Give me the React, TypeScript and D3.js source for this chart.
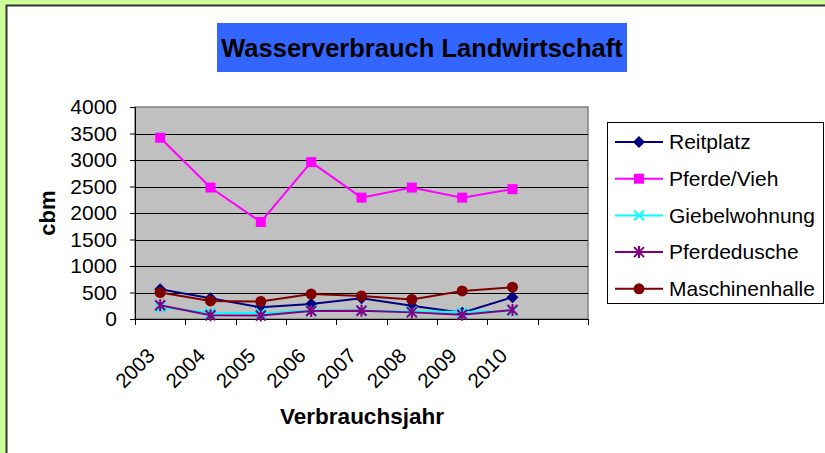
import React, { useRef, useEffect } from 'react';
import * as d3 from 'd3';

const years = ['2003', '2004', '2005', '2006', '2007', '2008', '2009', '2010'];
const yTicks = [0, 500, 1000, 1500, 2000, 2500, 3000, 3500, 4000];

const reitplatz = [560, 390, 220, 285, 390, 250, 120, 410];
const pferdeVieh = [3420, 2480, 1830, 2960, 2290, 2480, 2290, 2450];
const giebelwohnung = [220, 120, 110, 160, 160, 140, 130, 150];
const pferdedusche = [260, 70, 65, 150, 155, 125, 80, 170];
const maschinenhalle = [500, 340, 330, 470, 435, 370, 530, 600];

const seriesNames = ['Reitplatz', 'Pferde/Vieh', 'Giebelwohnung', 'Pferdedusche', 'Maschinenhalle'];
const seriesColors = ['#000080', '#ff00ff', '#00ffff', '#800080', '#800000'];
const seriesMarkers = ['diamond', 'square', 'cross', 'asterisk', 'circle'];

const FONT = 'Arial, "Liberation Sans", sans-serif';

const App: React.FC = () => {
  const svgRef = useRef<SVGSVGElement>(null);

  useEffect(() => {
    const svg = d3.select(svgRef.current);
    svg.selectAll('*').remove();

    const width = 825;
    const height = 453;
    const plot = { left: 135, top: 107, right: 588, bottom: 319 };

    // background + chart panel
    svg.append('rect').attr('width', width).attr('height', height).attr('fill', '#ccff99');
    svg.append('rect')
      .attr('x', 6.5).attr('y', 5.5)
      .attr('width', width + 20).attr('height', height + 20)
      .attr('fill', '#fff').attr('stroke', '#333').attr('stroke-width', 2);

    // title
    svg.append('rect').attr('x', 217).attr('y', 23).attr('width', 410).attr('height', 49).attr('fill', '#3366ff');
    svg.append('text')
      .attr('x', 422).attr('y', 57)
      .attr('text-anchor', 'middle')
      .attr('font-family', FONT).attr('font-weight', 'bold').attr('font-size', 25.5)
      .text('Wasserverbrauch Landwirtschaft');

    const slots = [...years, ''];
    const x = d3.scaleBand().domain(slots).range([plot.left, plot.right]).padding(0);
    const y = d3.scaleLinear().domain([0, 4000]).range([plot.bottom, plot.top]);

    // plot area
    svg.append('rect')
      .attr('x', plot.left).attr('y', plot.top)
      .attr('width', plot.right - plot.left).attr('height', plot.bottom - plot.top)
      .attr('fill', '#c0c0c0').attr('stroke', '#808080').attr('stroke-width', 1.5);

    svg.append('g')
      .selectAll('line')
      .data(yTicks.filter(d => d > 0 && d < 4000))
      .join('line')
      .attr('x1', plot.left).attr('x2', plot.right)
      .attr('y1', d => Math.round(y(d)) + 0.5).attr('y2', d => Math.round(y(d)) + 0.5)
      .attr('stroke', '#000').attr('stroke-width', 1);

    // y axis
    const yAxis = svg.append('g')
      .attr('transform', `translate(${plot.left},0)`)
      .call(d3.axisLeft(y).tickValues(yTicks).tickSize(5).tickPadding(13).tickFormat(d => String(d)));
    yAxis.select('.domain').attr('stroke', '#000');
    yAxis.selectAll('text').attr('font-family', FONT).attr('font-size', 21).attr('fill', '#000');

    // x axis (ticks on band boundaries)
    const bounds = d3.range(slots.length + 1).map(i => plot.left + i * x.bandwidth());
    svg.append('line')
      .attr('x1', plot.left).attr('x2', plot.right)
      .attr('y1', plot.bottom + 0.5).attr('y2', plot.bottom + 0.5)
      .attr('stroke', '#000');
    svg.append('g')
      .selectAll('line')
      .data(bounds)
      .join('line')
      .attr('x1', d => Math.round(d) + 0.5).attr('x2', d => Math.round(d) + 0.5)
      .attr('y1', plot.bottom).attr('y2', plot.bottom + 6)
      .attr('stroke', '#000');

    svg.append('g')
      .selectAll('text')
      .data(years)
      .join('text')
      .attr('transform', d => `translate(${x(d)! + x.bandwidth() / 2 - 4},${plot.bottom + 38}) rotate(-45)`)
      .attr('text-anchor', 'end')
      .attr('font-family', FONT).attr('font-size', 20.5)
      .text(d => d);

    // axis titles
    svg.append('text')
      .attr('transform', `translate(55,${(plot.top + plot.bottom) / 2}) rotate(-90)`)
      .attr('text-anchor', 'middle')
      .attr('font-family', FONT).attr('font-weight', 'bold').attr('font-size', 22)
      .text('cbm');
    svg.append('text')
      .attr('x', 362).attr('y', 424)
      .attr('text-anchor', 'middle')
      .attr('font-family', FONT).attr('font-weight', 'bold').attr('font-size', 22.5)
      .text('Verbrauchsjahr');

    const allSeries = [reitplatz, pferdeVieh, giebelwohnung, pferdedusche, maschinenhalle];

    const drawMarker = (g: d3.Selection<SVGGElement, unknown, null, undefined>, kind: string, color: string) => {
      if (kind === 'diamond') {
        g.append('path').attr('d', 'M0,-6L6,0L0,6L-6,0Z').attr('fill', color);
      } else if (kind === 'square') {
        g.append('rect').attr('x', -5).attr('y', -5).attr('width', 10).attr('height', 10).attr('fill', color);
      } else if (kind === 'cross') {
        g.append('path').attr('d', 'M-5,-5L5,5M-5,5L5,-5').attr('stroke', color).attr('stroke-width', 2);
      } else if (kind === 'asterisk') {
        g.append('path').attr('d', 'M-5,-5L5,5M-5,5L5,-5M0,-6L0,6').attr('stroke', color).attr('stroke-width', 2);
      } else {
        g.append('circle').attr('r', 5.5).attr('fill', color);
      }
    };

    const line = d3.line<number>()
      .x((_, i) => x(years[i])! + x.bandwidth() / 2)
      .y(d => y(d));

    allSeries.forEach((values, s) => {
      const color = seriesColors[s];
      svg.append('path')
        .datum(values)
        .attr('d', line)
        .attr('fill', 'none')
        .attr('stroke', color)
        .attr('stroke-width', 2);
      values.forEach((v, i) => {
        const g = svg.append('g').attr('transform', `translate(${x(years[i])! + x.bandwidth() / 2},${y(v)})`);
        drawMarker(g, seriesMarkers[s], color);
      });
    });

    // legend
    const legend = svg.append('g');
    legend.append('rect')
      .attr('x', 607.5).attr('y', 122.5).attr('width', 216).attr('height', 181)
      .attr('fill', '#fff').attr('stroke', '#000').attr('stroke-width', 1);
    seriesNames.forEach((name, s) => {
      const ly = 142 + s * 36.7;
      const color = seriesColors[s];
      legend.append('line')
        .attr('x1', 615).attr('x2', 663).attr('y1', ly).attr('y2', ly)
        .attr('stroke', color).attr('stroke-width', 2);
      const g = legend.append('g').attr('transform', `translate(639,${ly})`);
      drawMarker(g, seriesMarkers[s], color);
      legend.append('text')
        .attr('x', 669).attr('y', ly).attr('dy', '0.35em')
        .attr('font-family', FONT).attr('font-size', 21)
        .text(name);
    });
  }, []);

  return (
    <svg
      ref={svgRef}
      width="825"
      height="453"
      style={{ position: 'fixed', left: 0, top: 0 }}
    ></svg>
  );
};

export default App;
